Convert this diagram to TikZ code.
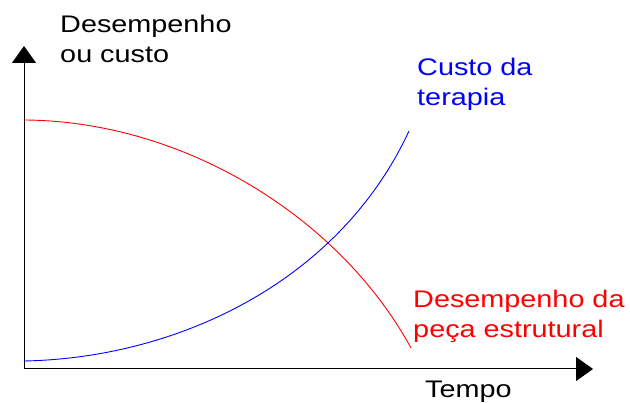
\documentclass[tikz,border=0pt]{standalone}
\usepackage{fontspec}
\setmainfont{Liberation Sans}
\usetikzlibrary{arrows.meta}
\begin{document}
\begin{tikzpicture}[x=1pt, y=1pt,
    axis/.style={line width=1pt, -{Triangle[length=17pt, width=24pt]}},
    curve/.style={line width=0.9pt},
    lbl/.style={inner sep=0pt, xscale=1.2, align=left, font=\fontsize{24}{30}\selectfont}]
    \useasboundingbox (0,0) rectangle (630,403);
    \coordinate (o) at (24,34);
    \coordinate (ytip) at (24,357);
    \coordinate (xtip) at (593,34);
    \draw[axis] (o) -- (ytip);
    \draw[axis] (o) -- (xtip);
    \coordinate (r0) at (24,283);
    \coordinate (r1) at (411,55);
    \coordinate (b0) at (24,42);
    \coordinate (b1) at (409,272);
    \draw[curve, red] (r0) .. controls (185,282) and (340,185) .. (r1);
    \draw[curve, blue] (b0) .. controls (180,45) and (340,123) .. (b1);
    \node[lbl, anchor=base west] (ylabel) at (60,340) {Desempenho\\ou custo};
    \node[lbl, anchor=base west, text=blue] (cost) at (417,297) {Custo da\\terapia};
    \node[lbl, anchor=base west, text=red] (perf) at (413,65) {Desempenho da\\peça estrutural};
    \node[lbl, anchor=base west] (xlabel) at (425,5) {Tempo};
\end{tikzpicture}
\end{document}
